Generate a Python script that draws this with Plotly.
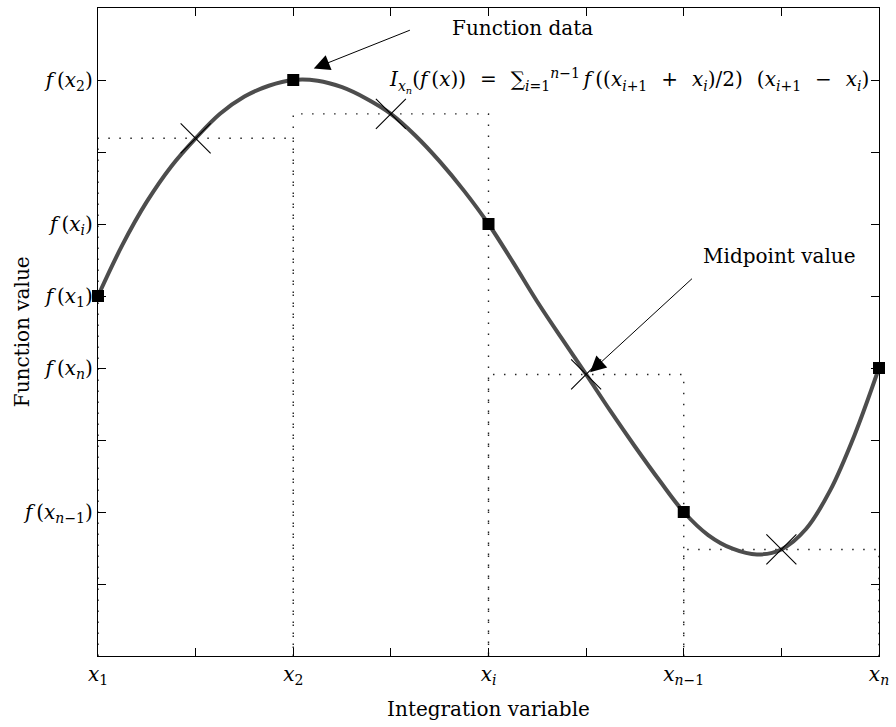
import plotly.graph_objects as go

# Known function samples (node positions on the integration axis and their values)
node_x = [0, 2, 4, 6, 8]
node_y = [5, 8, 6, 2, 4]

# Midpoints of each interval and the function value there
mid_x = [1, 3, 5, 7]
mid_y = [7.19, 7.53, 3.91, 1.48]

# Smooth interpolating curve, sampled every quarter unit
curve_x = [0, 0.25, 0.5, 0.75, 1, 1.25, 1.5, 1.75, 2, 2.25, 2.5, 2.75, 3, 3.25, 3.5, 3.75, 4,
           4.25, 4.5, 4.75, 5, 5.25, 5.5, 5.75, 6, 6.25, 6.5, 6.75, 7, 7.25, 7.5, 7.75, 8]
curve_y = [5, 5.71, 6.31, 6.80, 7.19, 7.53, 7.77, 7.92, 8, 7.99, 7.90, 7.74, 7.53, 7.23, 6.87, 6.46, 6,
           5.47, 4.92, 4.41, 3.91, 3.40, 2.91, 2.44, 2.0, 1.68, 1.49, 1.41, 1.48, 1.76, 2.30, 3.07, 4]

# Axis ticks and their labels
x_ticks = [0, 1, 2, 3, 4, 5, 6, 7, 8]
x_labels = ["<i>x</i><sub>1</sub>", "", "<i>x</i><sub>2</sub>", "", "<i>x</i><sub><i>i</i></sub>", "",
            "<i>x</i><sub><i>n</i>−1</sub>", "", "<i>x</i><sub><i>n</i></sub>"]
y_ticks = [1, 2, 3, 4, 5, 6, 7, 8]
y_labels = ["", "<i>f</i>\u2009(<i>x</i><sub><i>n</i>−1</sub>)", "", "<i>f</i>\u2009(<i>x</i><sub><i>n</i></sub>)",
            "<i>f</i>\u2009(<i>x</i><sub>1</sub>)", "<i>f</i>\u2009(<i>x</i><sub><i>i</i></sub>)", "",
            "<i>f</i>\u2009(<i>x</i><sub>2</sub>)"]

FONT = "DejaVu Serif"
TXT = dict(family=FONT, size=20, color="black")

fig = go.Figure()

# Dotted midpoint-rule rectangles
for i in range(len(mid_x)):
    x0, x1 = node_x[i], node_x[i + 1]
    h = mid_y[i]
    fig.add_trace(go.Scatter(
        x=[x0, x0, x1, x1], y=[0, h, h, 0], mode="lines",
        line=dict(color="#222222", width=1.4, dash="1.5px,9.5px"),
        hoverinfo="skip", showlegend=False, cliponaxis=False))

# The interpolated function
fig.add_trace(go.Scatter(
    x=curve_x, y=curve_y, mode="lines",
    line=dict(color="#4d4d4d", width=4, shape="spline", smoothing=1.0),
    showlegend=False))

# Midpoint values
fig.add_trace(go.Scatter(
    x=mid_x, y=mid_y, mode="markers",
    marker=dict(symbol="x-thin", size=30, line=dict(color="black", width=1.1)),
    showlegend=False, cliponaxis=False))

# Function data points
fig.add_trace(go.Scatter(
    x=node_x, y=node_y, mode="markers",
    marker=dict(symbol="square", size=12, color="black", line=dict(width=0)),
    showlegend=False, cliponaxis=False))

axis_common = dict(
    showgrid=False, zeroline=False, showline=True, linecolor="black", linewidth=1.3,
    mirror="ticks", ticks="inside", ticklen=8, tickwidth=1.2, tickcolor="black",
    tickfont=dict(family=FONT, size=20, color="black"),
)

fig.update_xaxes(
    range=[0, 8], tickmode="array", tickvals=x_ticks, ticktext=x_labels,
    title=dict(text="Integration variable", font=TXT, standoff=14),
    **axis_common)
fig.update_yaxes(
    range=[0, 9], tickmode="array", tickvals=y_ticks, ticktext=y_labels,
    **axis_common)

SP = "\u2002\u2009"
formula = ("<i>I</i><sub><i>x</i><sub><i>n</i></sub></sub>(<i>f</i>\u2009(<i>x</i>))" + SP + "=" + SP +
           "∑<sub><i>i</i>=1</sub><sup><i>n</i>−1</sup>\u2009"
           "<i>f</i>\u2009((<i>x</i><sub><i>i</i>+1</sub>" + SP + "+" + SP + "<i>x</i><sub><i>i</i></sub>)/2)" +
           SP + "(<i>x</i><sub><i>i</i>+1</sub>" + SP + "−" + SP + "<i>x</i><sub><i>i</i></sub>)")

annotations = [
    # Vertical axis title
    dict(x=-0.097, y=0.5, xref="paper", yref="paper", xanchor="center", yanchor="middle",
         text="Function value", textangle=-90, showarrow=False, font=TXT),
    # Arrow to a data point
    dict(x=2.21, y=8.16, ax=3.21, ay=8.70, xref="x", yref="y", axref="x", ayref="y",
         text="", showarrow=True, arrowhead=2, arrowsize=3.2, arrowwidth=1, arrowcolor="black"),
    dict(x=3.61, y=8.72, xref="x", yref="y", xanchor="left", yanchor="middle",
         text="Function data", showarrow=False, font=TXT),
    # Arrow to a midpoint value
    dict(x=5.04, y=3.94, ax=6.10, ay=5.26, xref="x", yref="y", axref="x", ayref="y",
         text="", showarrow=True, arrowhead=2, arrowsize=3.2, arrowwidth=1, arrowcolor="black"),
    dict(x=6.18, y=5.55, xref="x", yref="y", xanchor="left", yanchor="middle",
         text="Midpoint value", showarrow=False, font=TXT),
    # Composite midpoint rule
    dict(x=2.96, y=8.0, xref="x", yref="y", xanchor="left", yanchor="middle", showarrow=False,
         text=formula, font=dict(family=FONT, size=20, color="black")),
]

fig.update_layout(
    width=896, height=727,
    margin=dict(l=98, r=12, t=7, b=71),
    plot_bgcolor="white", paper_bgcolor="white",
    annotations=annotations,
    showlegend=False,
)

fig.write_html("out.html")
